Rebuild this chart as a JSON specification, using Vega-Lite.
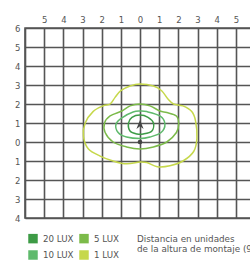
{
  "$schema": "https://vega.github.io/schema/vega-lite/v6.json",
  "width": 230,
  "height": 190,
  "autosize": "none",
  "padding": {"left": 25, "top": 28, "right": 0, "bottom": 44},
  "background": "white",
  "config": {
    "font": "DejaVu Sans",
    "view": {"stroke": "#555555", "strokeWidth": 1.6},
    "axis": {"domain": false, "ticks": false, "gridColor": "#555555", "gridWidth": 1.6, "gridOpacity": 1, "labelColor": "#555555", "labelFontSize": 8.5, "labelFont": "DejaVu Sans", "labelOverlap": false}
  },
  "title": {
    "text": ["Distancia en unidades", "de la altura de montaje (9M)"],
    "orient": "bottom",
    "anchor": "start",
    "frame": "group",
    "dx": 112,
    "offset": -26,
    "fontSize": 8.8,
    "fontWeight": "normal",
    "color": "#555555",
    "lineHeight": 10.6,
    "font": "DejaVu Sans"
  },
  "encoding": {
    "x": {"field": "x", "type": "quantitative", "scale": {"domain": [-6, 6], "nice": false, "zero": false},
          "axis": {"orient": "top", "values": [-6, -5, -4, -3, -2, -1, 0, 1, 2, 3, 4, 5, 6], "labelExpr": "datum.value == -6 || datum.value == 6 ? '' : '' + abs(datum.value)", "labelPadding": 4, "title": null}},
    "y": {"field": "y", "type": "quantitative", "scale": {"domain": [-4, 6], "nice": false, "zero": false},
          "axis": {"values": [-4, -3, -2, -1, 0, 1, 2, 3, 4, 5, 6], "labelExpr": "'' + abs(datum.value)", "labelPadding": 5, "title": null}}
  },
  "layer": [
    {
      "data": {"values": [
        {"level": "1 LUX", "i": 0, "x": 0, "y": 3.05},
        {"level": "1 LUX", "i": 1, "x": 0.7, "y": 2.95},
        {"level": "1 LUX", "i": 2, "x": 1.13, "y": 2.7},
        {"level": "1 LUX", "i": 3, "x": 1.46, "y": 2.26},
        {"level": "1 LUX", "i": 4, "x": 1.75, "y": 2.0},
        {"level": "1 LUX", "i": 5, "x": 2.24, "y": 1.9},
        {"level": "1 LUX", "i": 6, "x": 2.7, "y": 1.6},
        {"level": "1 LUX", "i": 7, "x": 2.9, "y": 1.1},
        {"level": "1 LUX", "i": 8, "x": 2.97, "y": 0.2},
        {"level": "1 LUX", "i": 9, "x": 2.8, "y": -0.5},
        {"level": "1 LUX", "i": 10, "x": 2.24, "y": -1.0},
        {"level": "1 LUX", "i": 11, "x": 1.56, "y": -1.25},
        {"level": "1 LUX", "i": 12, "x": 0.9, "y": -1.3},
        {"level": "1 LUX", "i": 13, "x": 0.35, "y": -1.08},
        {"level": "1 LUX", "i": 14, "x": 0, "y": -1.05},
        {"level": "1 LUX", "i": 15, "x": -0.7, "y": -1.15},
        {"level": "1 LUX", "i": 16, "x": -1.4, "y": -1.0},
        {"level": "1 LUX", "i": 17, "x": -2.08, "y": -0.74},
        {"level": "1 LUX", "i": 18, "x": -2.7, "y": -0.35},
        {"level": "1 LUX", "i": 19, "x": -2.95, "y": 0.3},
        {"level": "1 LUX", "i": 20, "x": -2.86, "y": 1.0},
        {"level": "1 LUX", "i": 21, "x": -2.45, "y": 1.6},
        {"level": "1 LUX", "i": 22, "x": -1.93, "y": 1.9},
        {"level": "1 LUX", "i": 23, "x": -1.56, "y": 2.0},
        {"level": "1 LUX", "i": 24, "x": -1.3, "y": 2.35},
        {"level": "1 LUX", "i": 25, "x": -1.0, "y": 2.7},
        {"level": "1 LUX", "i": 26, "x": -0.52, "y": 2.95},
        {"level": "5 LUX", "i": 0, "x": 0, "y": 2.0},
        {"level": "5 LUX", "i": 1, "x": 0.52, "y": 1.9},
        {"level": "5 LUX", "i": 2, "x": 1.04, "y": 1.63},
        {"level": "5 LUX", "i": 3, "x": 1.4, "y": 1.55},
        {"level": "5 LUX", "i": 4, "x": 1.9, "y": 1.37},
        {"level": "5 LUX", "i": 5, "x": 2.02, "y": 0.95},
        {"level": "5 LUX", "i": 6, "x": 1.9, "y": 0.5},
        {"level": "5 LUX", "i": 7, "x": 1.4, "y": 0.0},
        {"level": "5 LUX", "i": 8, "x": 0.7, "y": -0.26},
        {"level": "5 LUX", "i": 9, "x": 0, "y": -0.37},
        {"level": "5 LUX", "i": 10, "x": -0.7, "y": -0.26},
        {"level": "5 LUX", "i": 11, "x": -1.4, "y": 0.0},
        {"level": "5 LUX", "i": 12, "x": -1.82, "y": 0.5},
        {"level": "5 LUX", "i": 13, "x": -1.85, "y": 1.0},
        {"level": "5 LUX", "i": 14, "x": -1.56, "y": 1.37},
        {"level": "5 LUX", "i": 15, "x": -0.94, "y": 1.63},
        {"level": "5 LUX", "i": 16, "x": -0.52, "y": 1.9},
        {"level": "10 LUX", "i": 0, "x": 0, "y": 1.63},
        {"level": "10 LUX", "i": 1, "x": 0.35, "y": 1.6},
        {"level": "10 LUX", "i": 2, "x": 1.04, "y": 1.37},
        {"level": "10 LUX", "i": 3, "x": 1.3, "y": 0.95},
        {"level": "10 LUX", "i": 4, "x": 1.1, "y": 0.5},
        {"level": "10 LUX", "i": 5, "x": 0.52, "y": 0.26},
        {"level": "10 LUX", "i": 6, "x": 0, "y": 0.18},
        {"level": "10 LUX", "i": 7, "x": -0.7, "y": 0.26},
        {"level": "10 LUX", "i": 8, "x": -1.14, "y": 0.5},
        {"level": "10 LUX", "i": 9, "x": -1.25, "y": 0.95},
        {"level": "10 LUX", "i": 10, "x": -0.9, "y": 1.3},
        {"level": "10 LUX", "i": 11, "x": -0.36, "y": 1.58},
        {"level": "20 LUX", "i": 0, "x": 0, "y": 1.42},
        {"level": "20 LUX", "i": 1, "x": 0.42, "y": 1.3},
        {"level": "20 LUX", "i": 2, "x": 0.7, "y": 1.0},
        {"level": "20 LUX", "i": 3, "x": 0.62, "y": 0.58},
        {"level": "20 LUX", "i": 4, "x": 0.17, "y": 0.42},
        {"level": "20 LUX", "i": 5, "x": -0.16, "y": 0.42},
        {"level": "20 LUX", "i": 6, "x": -0.52, "y": 0.58},
        {"level": "20 LUX", "i": 7, "x": -0.6, "y": 1.0},
        {"level": "20 LUX", "i": 8, "x": -0.42, "y": 1.3}
      ]},
      "mark": {"type": "line", "interpolate": "cardinal-closed", "strokeWidth": 1.5},
      "encoding": {
        "order": {"field": "i", "type": "quantitative"},
        "color": {"field": "level", "type": "nominal",
                  "scale": {"domain": ["20 LUX", "10 LUX", "5 LUX", "1 LUX"], "range": ["#3d9b46", "#5fba6c", "#7cbb4a", "#c6d84b"]},
                  "legend": {"orient": "none", "legendX": 3, "legendY": 205.5, "columns": 2, "title": null, "symbolType": "square", "symbolSize": 90, "padding": 0, "rowPadding": 6.5, "columnPadding": 5, "labelOffset": 5, "labelFontSize": 8.7, "labelColor": "#555555", "labelFont": "DejaVu Sans",
                             "encode": {"symbols": {"update": {"fill": {"scale": "color", "field": "value"}, "fillOpacity": {"value": 1}, "strokeWidth": {"value": 0}}}}}}
      }
    },
    {
      "data": {"values": [
        {"kind": "dot", "x": 0, "y": 0},
        {"kind": "arrow", "x": 0, "y": 0.92}
      ]},
      "mark": {"type": "point", "filled": true, "opacity": 1, "color": "#444444"},
      "encoding": {
        "shape": {"field": "kind", "type": "nominal", "scale": {"domain": ["dot", "arrow"], "range": ["circle", "M0,-1L0.8,1L0,0.4L-0.8,1Z"]}, "legend": null},
        "size": {"field": "kind", "type": "nominal", "scale": {"domain": ["dot", "arrow"], "range": [22, 81]}, "legend": null}
      }
    }
  ]
}
